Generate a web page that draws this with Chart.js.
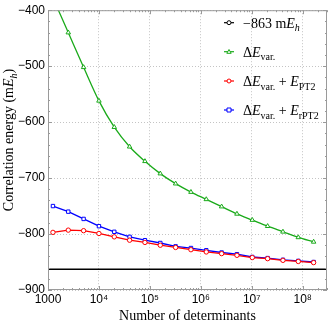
<!DOCTYPE html>
<html><head><meta charset="utf-8">
<script src="https://cdn.jsdelivr.net/npm/chart.js@4/dist/chart.umd.min.js"></script>
<style>html,body{margin:0;padding:0;background:#fff}#wrap{width:332px;height:325px}</style>
</head><body><div id="wrap"><canvas id="c" width="332" height="325"></canvas></div>
<script>
const determinants = [1250,2500,5000,10000,20000,40000,80000,160000,320000,640000,1280000,2560000,5120000,10240000,20480000,40960000,81920000,163840000];
const deltaEvar = [-378,-440,-502,-562,-609,-644,-670,-692,-710,-725,-738,-751,-764,-775,-786,-796,-806,-814];
const deltaEvarPT2 = [-797,-793,-794,-799,-805,-811,-815,-820,-824,-828,-832,-835,-838,-842,-844,-847,-849,-851];
const deltaEvarRPT2 = [-750,-760,-773,-786,-796,-805,-811,-816,-822,-825,-829,-833,-836,-841,-843,-846,-848,-850];
const referenceEnergy = -863;
const xTickValues = [1e3,1e4,1e5,1e6,1e7,1e8];
const xTickLabels = ['1000','10\u2074','10\u2075','10\u2076','10\u2077','10\u2078'];
const xMin = 1000, xMax = 3e8, yMin = -900, yMax = -400;

const pts = arr => determinants.map((x,i)=>({x, y: arr[i]}));

const legendItems = [
  {color:'#000000', style:'circle', runs:[{t:'\u2212863 m'},{t:'E',i:1},{t:'h',i:1,sub:1}]},
  {color:'#1aaa1a', style:'triangle', runs:[{t:'\u0394'},{t:'E',i:1},{t:'var.',sub:1}]},
  {color:'#ff0000', style:'circle', runs:[{t:'\u0394'},{t:'E',i:1},{t:'var.',sub:1},{t:' + '},{t:'E',i:1},{t:'PT2',sub:1}]},
  {color:'#0000ff', style:'rect', runs:[{t:'\u0394'},{t:'E',i:1},{t:'var.',sub:1},{t:' + '},{t:'E',i:1},{t:'rPT2',sub:1}]}
];

function drawRuns(ctx, runs, x, y, size, subSize) {
  for (const r of runs) {
    const fs = r.sub ? subSize : size;
    ctx.font = (r.i ? 'italic ' : '') + fs + 'px "Liberation Serif", "Times New Roman", serif';
    const dy = r.sub ? size*0.25 : 0;
    ctx.fillText(r.t, x, y + dy);
    x += ctx.measureText(r.t).width;
  }
  return x;
}
function runsWidth(ctx, runs, size, subSize){
  let w=0;
  for (const r of runs){ const fs=r.sub?subSize:size; ctx.font=(r.i?'italic ':'')+fs+'px "Liberation Serif", serif'; w+=ctx.measureText(r.t).width; }
  return w;
}
function marker(ctx, style, x, y, r, color){
  ctx.save(); ctx.strokeStyle=color; ctx.fillStyle='#fff'; ctx.lineWidth=1;
  ctx.beginPath();
  if(style==='circle'){ ctx.arc(x,y,r,0,Math.PI*2); }
  else if(style==='rect'){ ctx.rect(x-r,y-r,2*r,2*r); }
  else if(style==='triangle'){ ctx.moveTo(x,y-r*1.1); ctx.lineTo(x+r*1.1,y+r*0.8); ctx.lineTo(x-r*1.1,y+r*0.8); ctx.closePath(); }
  ctx.fill(); ctx.stroke(); ctx.restore();
}

const decor = {
  id:'decor',
  afterDraw(chart){
    const ctx = chart.ctx, a = chart.chartArea, xs = chart.scales.x, ys = chart.scales.y;
    ctx.save();
    // frame
    ctx.strokeStyle = '#9a9a9a'; ctx.lineWidth = 1;
    ctx.strokeRect(a.left+0.5, a.top+0.5, a.right-a.left-1, a.bottom-a.top-1);
    ctx.beginPath();
    for (let e=3;e<=8;e++){
      for (let m=1;m<=9;m++){
        const v = m*Math.pow(10,e); if (v<xMin||v>xMax) continue;
        const px = Math.round(xs.getPixelForValue(v))+0.5, L = m===1?4:2;
        ctx.moveTo(px,a.bottom); ctx.lineTo(px,a.bottom-L);
        ctx.moveTo(px,a.top); ctx.lineTo(px,a.top+L);
      }
    }
    for (let v=yMin; v<=yMax; v+=20){
      const py = Math.round(ys.getPixelForValue(v))+0.5, L = (v%100===0)?4:2;
      ctx.moveTo(a.left,py); ctx.lineTo(a.left+L,py);
      ctx.moveTo(a.right,py); ctx.lineTo(a.right-L,py);
    }
    ctx.stroke();
    // axis titles
    ctx.fillStyle='#000'; ctx.textBaseline='alphabetic';
    ctx.font = '14px "Liberation Serif", "Times New Roman", serif';
    ctx.textAlign='center';
    ctx.fillText('Number of determinants', (a.left+a.right)/2, 320);
    ctx.textAlign='left';
    const yRuns=[{t:'Correlation energy (m'},{t:'E',i:1},{t:'h',i:1,sub:1},{t:')'}];
    const w = runsWidth(ctx,yRuns,14,10);
    ctx.save(); ctx.translate(13, 140); ctx.rotate(-Math.PI/2);
    drawRuns(ctx, yRuns, -w/2, 0, 14, 10);
    ctx.restore();
    // legend
    const rows=[22.7,51.7,81,110];
    legendItems.forEach((it,k)=>{
      const y=rows[k];
      ctx.strokeStyle=it.color; ctx.lineWidth=1.2;
      ctx.beginPath(); ctx.moveTo(224,y); ctx.lineTo(234,y); ctx.stroke();
      marker(ctx,it.style,229,y,2,it.color);
      ctx.fillStyle='#000';
      drawRuns(ctx,it.runs,243,y+5,14,10);
    });
    ctx.restore();
  }
};

new Chart(document.getElementById('c'), {
  type:'line',
  data:{datasets:[
    {label:'ref', data:[{x:xMin,y:referenceEnergy},{x:xMax,y:referenceEnergy}], borderColor:'#000', borderWidth:1.5, pointRadius:0},
    {label:'var', data:pts(deltaEvar), borderColor:'#1aaa1a', backgroundColor:'#fff', borderWidth:1.3, pointStyle:'triangle', pointRadius:2.6, pointBorderWidth:1, tension:0.4, cubicInterpolationMode:'monotone'},
    {label:'pt2', data:pts(deltaEvarPT2), borderColor:'#ff0000', backgroundColor:'#fff', borderWidth:1.3, pointStyle:'circle', pointRadius:2.2, pointBorderWidth:1},
    {label:'rpt2', data:pts(deltaEvarRPT2), borderColor:'#0000ff', backgroundColor:'#fff', borderWidth:1.3, pointStyle:'rect', pointRadius:2.4, pointBorderWidth:1}
  ]},
  options:{
    responsive:false, animation:false, devicePixelRatio:1,
    layout:{padding:{top:5,right:1,left:0,bottom:0}},
    plugins:{legend:{display:false}, tooltip:{enabled:false}},
    scales:{
      x:{type:'logarithmic', min:xMin, max:xMax,
        afterBuildTicks:s=>{ s.ticks = xTickValues.map(v=>({value:v})); },
        afterFit:s=>{ s.height=35; },
        grid:{color:'#c4c4c4', drawTicks:false, lineWidth:1},
        border:{display:false, dash:[1,2]},
        ticks:{autoSkip:false, maxRotation:0, padding:2, color:'#000', font:{family:'"Liberation Sans", Arial, sans-serif', size:12},
          callback:(v)=>{ const i=xTickValues.indexOf(v); return i>=0?xTickLabels[i]:''; }}
      },
      y:{type:'linear', min:yMin, max:yMax,
        afterFit:s=>{ s.width=48; },
        grid:{color:'#c4c4c4', drawTicks:false, lineWidth:1},
        border:{display:false, dash:[1,2]},
        ticks:{stepSize:100, padding:3, color:'#000', font:{family:'"Liberation Sans", Arial, sans-serif', size:12},
          callback:v=> (v<0?'\u2212':'') + Math.abs(v)}
      }
    }
  },
  plugins:[decor]
});
</script></body></html>
